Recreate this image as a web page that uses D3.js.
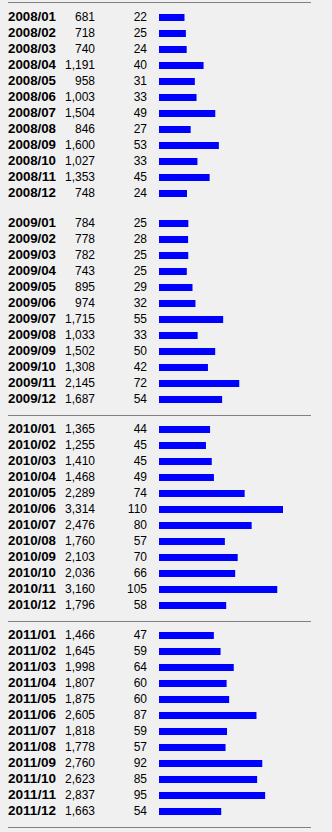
<!DOCTYPE html>
<html>
<head>
<meta charset="utf-8">
<script src="https://cdn.jsdelivr.net/npm/d3@7"></script>
<style>
    html, body { margin: 0; padding: 0; background: #f0f0f0; }
    svg { display: block; }
    .date { font: bold 13px "Liberation Sans", Arial, sans-serif; fill: #000; }
    .num { font: 12px "Liberation Sans", Arial, sans-serif; fill: #000; }
</style>
</head>
<body>
<svg id="chart" width="332" height="832"></svg>
<script>
const years = ['2008', '2009', '2010', '2011']
const months = ['01', '02', '03', '04', '05', '06', '07', '08', '09', '10', '11', '12']

const counts = [
    [681, 718, 740, 1191, 958, 1003, 1504, 846, 1600, 1027, 1353, 748],
    [784, 778, 782, 743, 895, 974, 1715, 1033, 1502, 1308, 2145, 1687],
    [1365, 1255, 1410, 1468, 2289, 3314, 2476, 1760, 2103, 2036, 3160, 1796],
    [1466, 1645, 1998, 1807, 1875, 2605, 1818, 1778, 2760, 2623, 2837, 1663]
]
const daily = [
    [22, 25, 24, 40, 31, 33, 49, 27, 53, 33, 45, 24],
    [25, 28, 25, 25, 29, 32, 55, 33, 50, 42, 72, 54],
    [44, 45, 45, 49, 74, 110, 80, 57, 70, 66, 105, 58],
    [47, 59, 64, 60, 60, 87, 59, 57, 92, 85, 95, 54]
]
// separator lines: before the first year and after these years
const linesAfter = ['2009', '2010', '2011']

const rows = []
years.forEach((y, yi) => {
    months.forEach((m, mi) => {
        rows.push({ year: y, yi, mi, label: `${y}/${m}`, count: counts[yi][mi], day: daily[yi][mi] })
    })
})

const svg = d3.select('#chart')
const yYear = d3.scaleLinear().domain([0, 1]).range([21, 227])
const yMonth = d3.scaleLinear().domain([0, 1]).range([0, 16])
const baseline = d => yYear(d.yi) + yMonth(d.mi)
const x = d3.scaleLinear().domain([0, 3314]).range([0, 124])
const fmt = d3.format(',')

const barX = 159
const barH = 7

// separators
const lineYs = [2.5].concat(linesAfter.map(y => Math.round(yYear(years.indexOf(y)) + yMonth(11) + 12) + 0.5))
svg.append('g').selectAll('line')
    .data(lineYs)
    .join('line')
    .attr('x1', 8).attr('x2', 311)
    .attr('y1', d => d).attr('y2', d => d)
    .attr('stroke', '#808080')
    .attr('stroke-width', 1)

const row = svg.append('g').selectAll('g')
    .data(rows)
    .join('g')
    .attr('transform', d => `translate(0, ${baseline(d)})`)

row.append('text')
    .attr('class', 'date')
    .attr('x', 8)
    .attr('textLength', 48)
    .attr('lengthAdjust', 'spacingAndGlyphs')
    .text(d => d.label)

row.append('text')
    .attr('class', 'num')
    .attr('x', 95)
    .attr('text-anchor', 'end')
    .text(d => fmt(d.count))

row.append('text')
    .attr('class', 'num')
    .attr('x', 147)
    .attr('text-anchor', 'end')
    .text(d => d.day)

row.append('rect')
    .attr('x', barX)
    .attr('y', -barH)
    .attr('width', d => x(d.count))
    .attr('height', barH)
    .attr('fill', '#0000ff')
</script>
</body>
</html>
